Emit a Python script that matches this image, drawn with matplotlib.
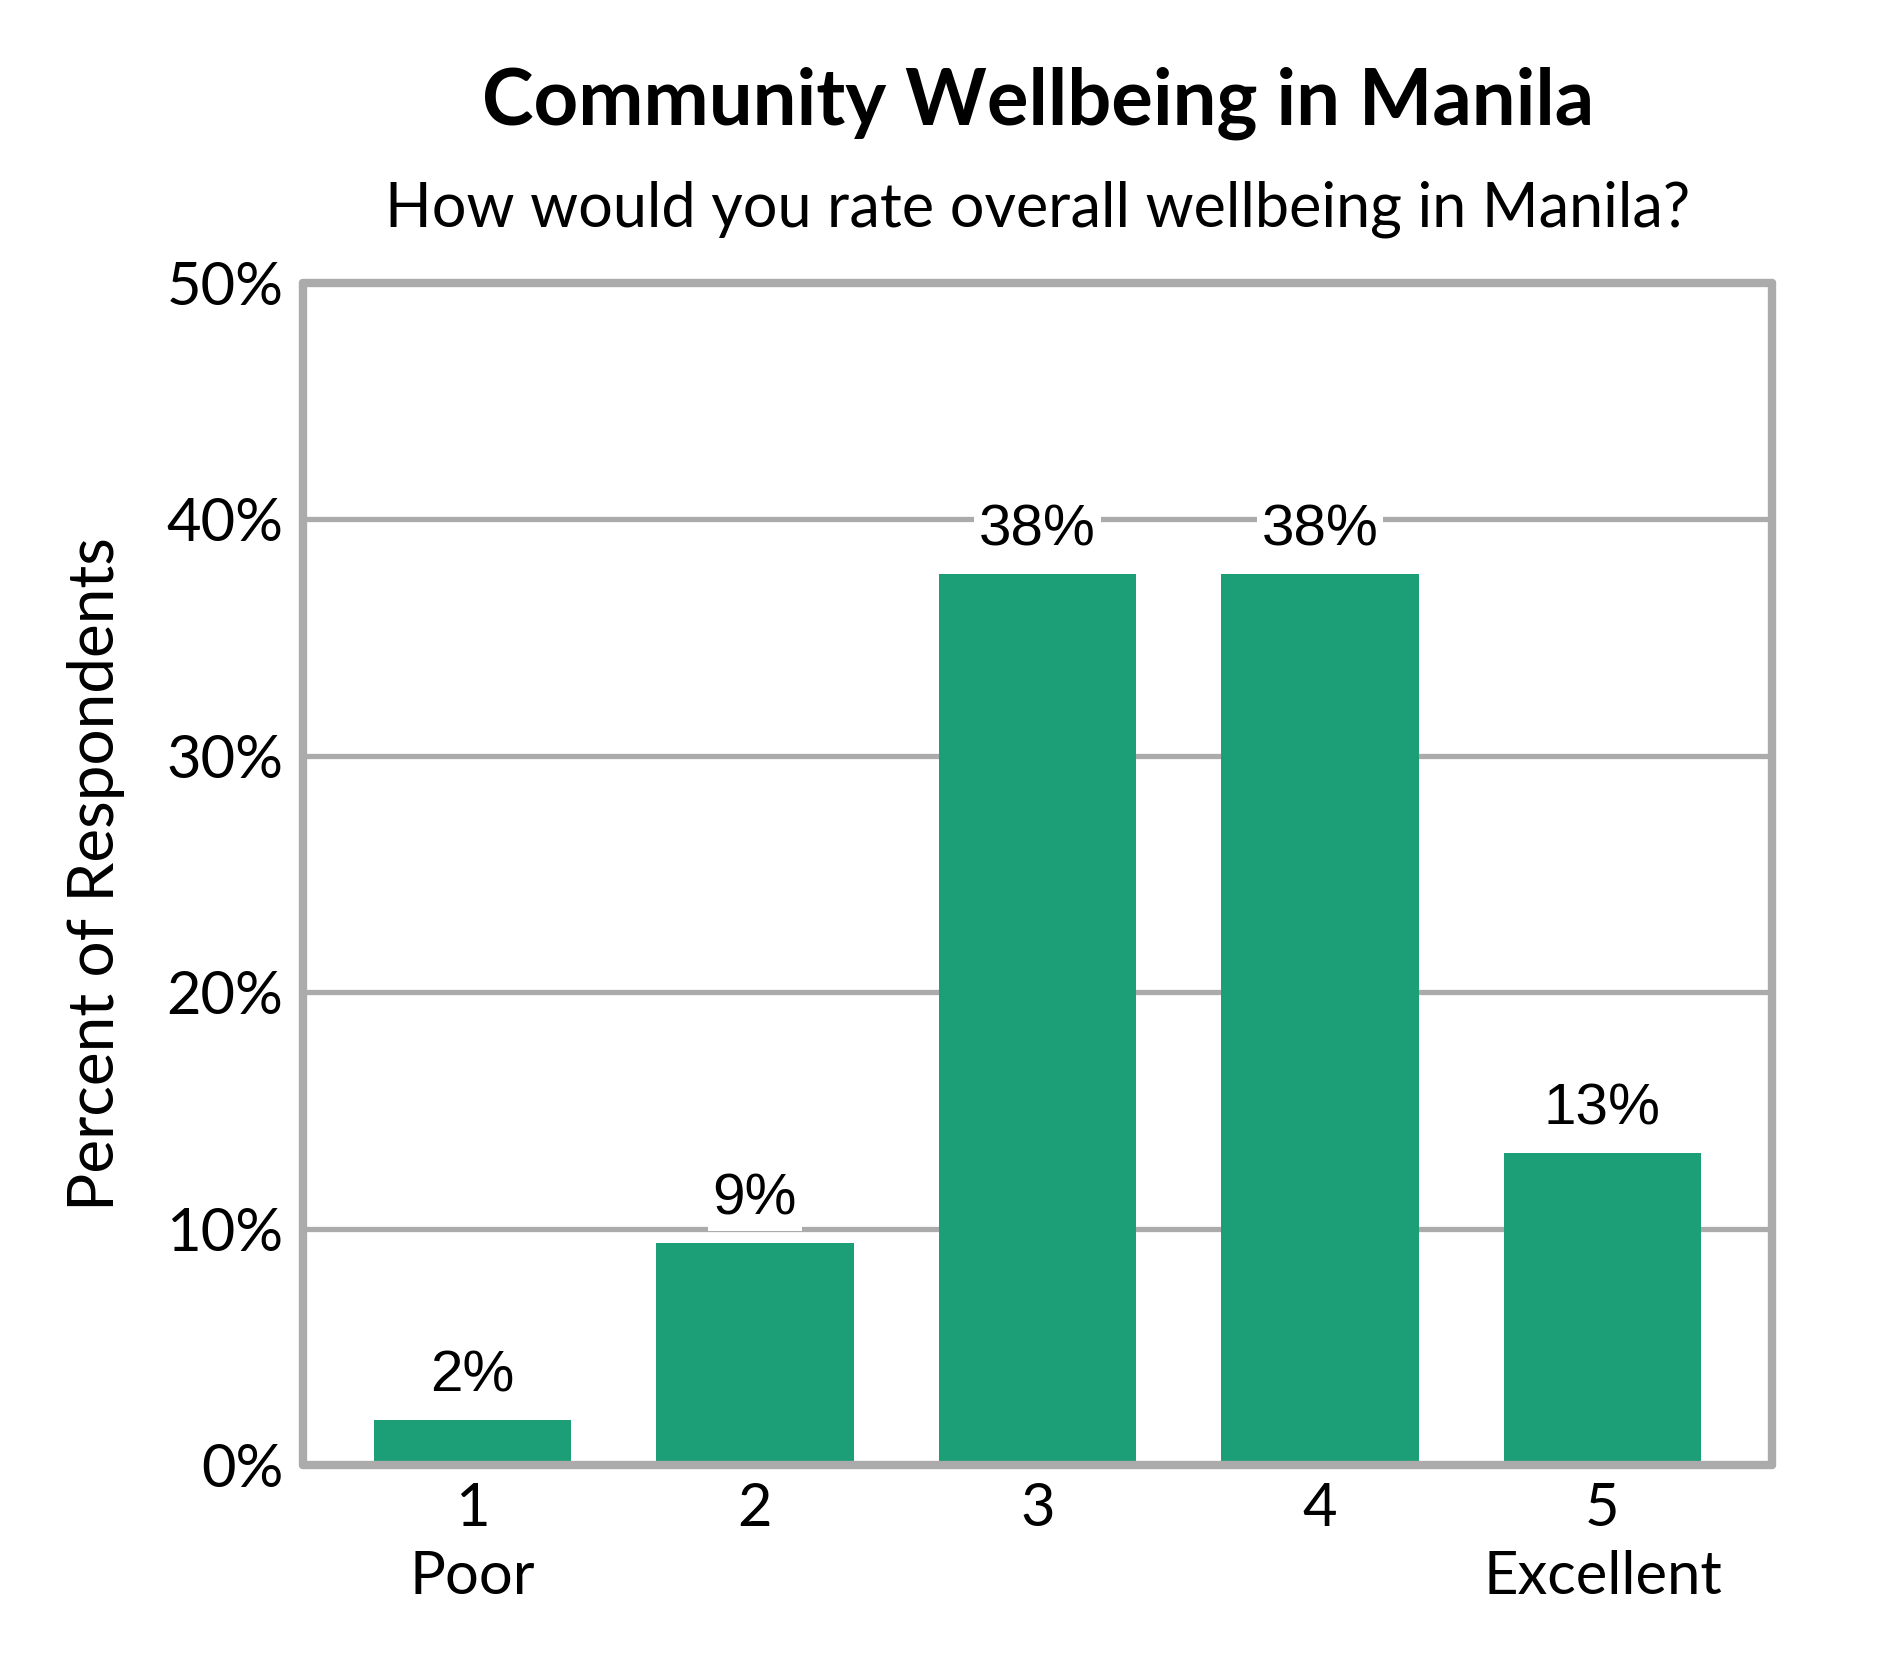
import matplotlib.pyplot as plt
from matplotlib.ticker import FuncFormatter

ratings = [1, 2, 3, 4, 5]
tick_labels = ["1\nPoor", "2", "3", "4", "5\nExcellent"]
percents = [1.9, 9.4, 37.7, 37.7, 13.2]
value_labels = ["2%", "9%", "38%", "38%", "13%"]

bar_color = "#1c9e77"
grey = "#ababab"
text_font = ["Lato", "DejaVu Sans"]

fig = plt.figure(figsize=(18.9, 16.8), dpi=100)
ax = fig.add_axes([0.1603, 0.128, 0.7772, 0.7035])

ax.bar(ratings, percents, width=0.7, color=bar_color, zorder=2)
ax.set_xlim(0.4, 5.6)
ax.set_ylim(0, 50)
ax.set_yticks([0, 10, 20, 30, 40, 50])
ax.yaxis.set_major_formatter(FuncFormatter(lambda v, p: "%d%%" % v))
ax.set_xticks(ratings)
ax.set_xticklabels(tick_labels, linespacing=1.32)
ax.grid(axis="y", color=grey, linewidth=3.8, zorder=1)
ax.set_axisbelow(True)
for s in ax.spines.values():
    s.set_color(grey)
    s.set_linewidth(6)
    s.set_capstyle("round")
    s.set_zorder(4)
ax.tick_params(length=0, labelsize=43)
ax.tick_params(axis="x", pad=12)
ax.tick_params(axis="y", pad=14)
for lab in ax.get_xticklabels() + ax.get_yticklabels():
    lab.set_family(text_font)

for x, v, t in zip(ratings, percents, value_labels):
    ax.text(x, v + 1.2, t, ha="center", va="baseline", fontsize=42,
            family=["Liberation Sans", "DejaVu Sans"], zorder=3,
            bbox=dict(boxstyle="square,pad=0.08", fc="white", ec="none"))

ax.set_ylabel("Percent of Respondents", fontsize=46, family=text_font)
ax.yaxis.set_label_coords(-0.121, 0.5)

fig.text(0.549, 0.926, "Community Wellbeing in Manila", ha="center", va="baseline",
         fontsize=56, fontweight="bold", family=text_font)
fig.text(0.549, 0.865, "How would you rate overall wellbeing in Manila?", ha="center",
         va="baseline", fontsize=44, family=text_font)

fig.savefig("out.png", dpi=100, facecolor="white")
